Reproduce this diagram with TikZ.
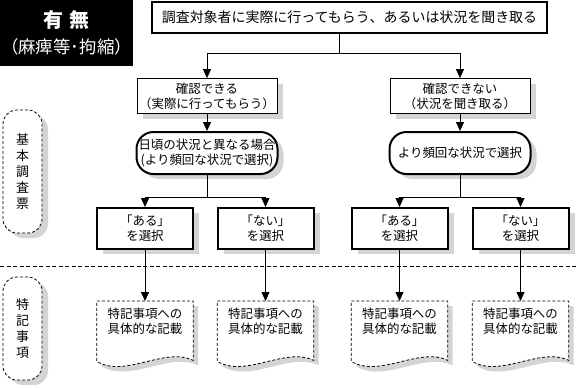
\documentclass[tikz,border=0pt]{standalone}
\usepackage{fontspec}
\setmainfont{Noto Sans CJK JP}
\usepackage{tikz}
\usetikzlibrary{
    arrows.meta,
    positioning,
    calc,
    backgrounds,
    shadows
}

% outline of a document shape round a doc node
\newcommand\docoutline[1]{%
    \fill[shadowgray,transform canvas={shift={(5bp,-5bp)}}]
        (#1.north west) -- (#1.north east) -- ($(#1.south east)+(0,-1)$)
        .. controls ($(#1.south)+(20,-15)$) and ($(#1.south)+(-20,17)$) .. (#1.south west) -- cycle;
    \draw[docline]
        (#1.north west) -- (#1.north east) -- ($(#1.south east)+(0,-1)$)
        .. controls ($(#1.south)+(20,-15)$) and ($(#1.south)+(-20,17)$) .. (#1.south west) -- cycle;
}

\begin{document}
\begin{tikzpicture}[x=1bp,y=-1bp,
    font=\fontsize{12.5}{15}\selectfont,
    line/.style={line width=0.8bp},
    arr/.style={line,-{Triangle[width=8bp,length=9bp]}},
    boxshadow/.style={drop shadow={shadow xshift=6bp,shadow yshift=-5bp,fill=shadowgray,opacity=1}},
    topbox/.style={draw,line width=2bp,minimum width=395bp,minimum height=31bp,inner sep=0pt,font=\fontsize{14}{16}\selectfont},
    casebox/.style={draw,line width=0.8bp,fill=white,boxshadow,minimum width=140bp,minimum height=35bp,align=center,inner sep=0pt},
    ovalbox/.style={draw,line width=2bp,fill=white,boxshadow,rounded corners=17bp,minimum width=141bp,minimum height=42bp,align=center,inner sep=0pt},
    pickbox/.style={draw,line width=2bp,fill=white,boxshadow,minimum width=96bp,minimum height=41bp,align=center,inner sep=0pt},
    sidebox/.style={draw,dash pattern=on 3bp off 2bp,line width=0.8bp,fill=white,boxshadow,rounded corners=14bp,minimum width=39bp,align=center,inner sep=0pt,font=\fontsize{13}{16}\selectfont},
    docnode/.style={minimum width=96bp,minimum height=60bp,text depth=20bp,align=center,inner sep=0pt,anchor=north},
    docline/.style={dash pattern=on 3bp off 2bp,line width=0.8bp,fill=white},
]
    \definecolor{shadowgray}{HTML}{D4D4D4}
    \useasboundingbox (0,0) rectangle (576,387);

    % title
    \node (title) [fill=black,text=white,minimum width=133bp,minimum height=66bp,inner sep=0pt,align=center,font=\fontsize{17.5}{26}\selectfont]
        at (66.5,33) {{\fontsize{20}{26}\selectfont\textbf{有\hspace{7bp}無}}\\（麻痺等･拘縮）};

    % side labels
    \node (survey) [sidebox,minimum height=123bp] at (22.5,171.5) {基\\本\\調\\査\\票};
    \node (notes) [sidebox,minimum height=103bp] at (22.5,328.5) {特\\記\\事\\項};
    \draw[line,dash pattern=on 4bp off 2.5bp] (0,266) -- (576,266);

    % flow
    \node (ask) [topbox] at (349.5,17.5) {調査対象者に実際に行ってもらう、あるいは状況を聞き取る};
    \node (can) [casebox] at (207,96) {確認できる\\（実際に行ってもらう）};
    \node (cannot) [casebox] at (460,96) {確認できない\\（状況を聞き取る）};
    \node (usual) [ovalbox] at (207,153) {日頃の状況と異なる場合\\(より頻回な状況で選択)};
    \node (often) [ovalbox] at (460,153) {より頻回な状況で選択};

    \node (yesL) [pickbox] at (145,228.5) {「ある」\\を選択};
    \node (noL) [pickbox] at (265.5,228.5) {「ない」\\を選択};
    \node (yesR) [pickbox] at (399.5,228.5) {「ある」\\を選択};
    \node (noR) [pickbox] at (520.5,228.5) {「ない」\\を選択};

    \node (docA) [docnode] at (145,301) {特記事項への\\具体的な記載};
    \node (docB) [docnode] at (265.5,301) {特記事項への\\具体的な記載};
    \node (docC) [docnode] at (399.5,301) {特記事項への\\具体的な記載};
    \node (docD) [docnode] at (520.5,301) {特記事項への\\具体的な記載};
    \begin{scope}[on background layer]
        \docoutline{docA}
        \docoutline{docB}
        \docoutline{docC}
        \docoutline{docD}
    \end{scope}

    % connectors
    \coordinate (split) at (339,53);
    \coordinate (forkL) at (207,197);
    \coordinate (forkR) at (460,197);
    \draw[line] (ask.south -| split) -- (split);
    \draw[arr] (split) -| (can.north);
    \draw[arr] (split) -| (cannot.north);
    \draw[arr] (can) -- (usual);
    \draw[arr] (cannot) -- (often);
    \draw[line] (usual) -- (forkL);
    \draw[line] (often) -- (forkR);
    \draw[arr] (forkL) -| (yesL.north);
    \draw[arr] (forkL) -| (noL.north);
    \draw[arr] (forkR) -| (yesR.north);
    \draw[arr] (forkR) -| (noR.north);
    \draw[arr] (yesL) -- (docA);
    \draw[arr] (noL) -- (docB);
    \draw[arr] (yesR) -- (docC);
    \draw[arr] (noR) -- (docD);
\end{tikzpicture}
\end{document}
